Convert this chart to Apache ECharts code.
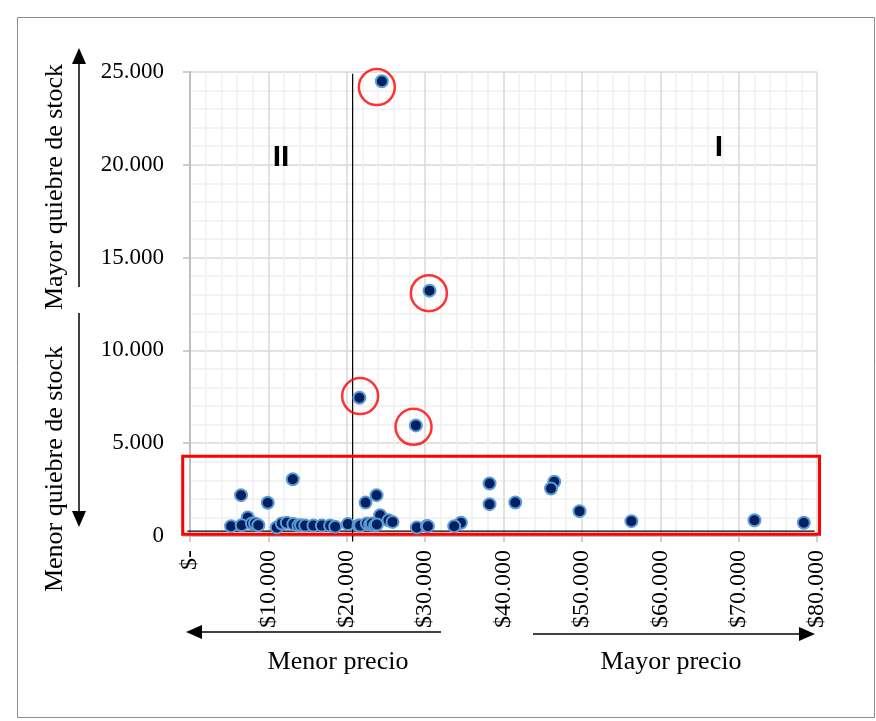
<!DOCTYPE html>
<html><head><meta charset="utf-8">
<script src="https://cdn.jsdelivr.net/npm/echarts@6/dist/echarts.min.js"></script>
<style>html,body{margin:0;padding:0;background:#fff}#c{width:876px;height:721px}</style>
</head><body><div id="c"></div>
<script>
// Products: price ($) vs stock break (units)
const priceValues = [24480, 30560, 21620, 28820,
  6510, 9920, 13110, 22400, 23800, 24260, 25330, 25840, 38220, 38220, 41500, 46480, 46060, 49700, 56320, 72020, 78320, 7370, 34570, 33710,
  5240, 6600, 7900, 8300, 8720, 11070, 11710, 12350, 13190, 13830, 14170, 14690, 15750, 16820, 17880, 18520, 20140, 21500, 21710, 22570, 22990, 23200, 23620, 23840, 28950, 30230, 30350];
const stockValues = [24500, 13220, 7450, 5960,
  2200, 1790, 3060, 1800, 2200, 1120, 850, 760, 2830, 1715, 1805, 2920, 2560, 1340, 800, 850, 710, 1000, 710, 530,
  530, 580, 680, 670, 580, 460, 670, 710, 640, 560, 580, 560, 560, 560, 560, 500, 640, 560, 560, 670, 620, 670, 560, 620, 460, 545, 530];
// highlighted (circled) products
const circlePrice = [23840, 30480, 21710, 28520];
const circleStock = [24190, 13080, 7540, 5885];
// reference lines
const refPrice = 20750;
const refStock = 260;
const refLineXRange = [-340, 79700];
const refLineYRange = [-300, 24900];
// low-stock-break box
const boxPrice = [-930, 80320];
const boxStock = [97, 4300];
// axes
const xTickLabels = ['$-', '$10.000', '$20.000', '$30.000', '$40.000', '$50.000', '$60.000', '$70.000', '$80.000'];
const yTickLabels = ['0', '5.000', '10.000', '15.000', '20.000', '25.000'];
const xInterval = 10000, yInterval = 5000;

const serif = 'Liberation Serif';
const chart = echarts.init(document.getElementById('c'), null, {renderer: 'canvas'});

const points = priceValues.map((p, i) => [p, stockValues[i]]);
const circles = circlePrice.map((p, i) => [p, circleStock[i]]);

function arrowV(x, yTop, yBot, up) {
  const tipY = up ? yTop : yBot;
  const baseY = up ? yTop + 16 : yBot - 16;
  return [
    {type: 'line', z: 100, shape: {x1: x, y1: up ? baseY : yTop, x2: x, y2: up ? yBot : baseY}, style: {stroke: '#000', lineWidth: 1.5}},
    {type: 'polygon', z: 100, shape: {points: [[x, tipY], [x - 7, baseY], [x + 7, baseY]]}, style: {fill: '#000'}}
  ];
}
function arrowH(y, xL, xR, left) {
  const tipX = left ? xL : xR;
  const baseX = left ? xL + 16 : xR - 16;
  return [
    {type: 'line', z: 100, shape: {x1: left ? baseX : xL, y1: y, x2: left ? xR : baseX, y2: y}, style: {stroke: '#000', lineWidth: 1.5}},
    {type: 'polygon', z: 100, shape: {points: [[tipX, y], [baseX, y - 7], [baseX, y + 7]]}, style: {fill: '#000'}}
  ];
}

const option = {
  animation: false,
  backgroundColor: '#fff',
  grid: {left: 190, right: 59, top: 72, bottom: 185, containLabel: false},
  xAxis: {
    type: 'value', min: 0, max: 80000, interval: xInterval,
    axisLine: {show: true, lineStyle: {color: '#BFBFBF', width: 2}},
    axisTick: {show: true, length: 6, lineStyle: {color: '#BFBFBF', width: 1.5}},
    axisLabel: {rotate: 90, margin: 14, fontFamily: serif, fontSize: 24, color: '#000',
      formatter: v => xTickLabels[Math.round(v / xInterval)]},
    splitLine: {show: true, lineStyle: {color: '#D9D9D9', width: 1.5}},
    minorTick: {show: false, splitNumber: 5},
    minorSplitLine: {show: true, lineStyle: {color: '#EFEFEF', width: 1.5}}
  },
  yAxis: {
    type: 'value', min: 0, max: 25000, interval: yInterval,
    axisLine: {show: true, lineStyle: {color: '#BFBFBF', width: 2}},
    axisTick: {show: true, length: 7, lineStyle: {color: '#BFBFBF', width: 1.5}},
    axisLabel: {margin: 26, fontFamily: serif, fontSize: 23, color: '#000',
      formatter: v => yTickLabels[Math.round(v / yInterval)]},
    splitLine: {show: true, lineStyle: {color: '#D9D9D9', width: 1.5}},
    minorTick: {show: false, splitNumber: 5},
    minorSplitLine: {show: true, lineStyle: {color: '#EFEFEF', width: 1.5}}
  },
  series: [
    {type: 'scatter', data: points, symbol: 'circle', symbolSize: 12, z: 5,
      itemStyle: {color: '#002060', borderColor: '#5B9BD5', borderWidth: 2, opacity: 1}},
    {type: 'scatter', data: circles, symbol: 'circle', symbolSize: 36, z: 6,
      itemStyle: {color: 'rgba(0,0,0,0)', borderColor: '#FF0000', borderWidth: 2.5}}
  ]
};
chart.setOption(option);

// overlay lines placed through the chart's own scales
const px = (x, y) => chart.convertToPixel({gridIndex: 0}, [x, y]);
const vTop = px(refPrice, refLineYRange[1]), vBot = px(refPrice, refLineYRange[0]);
const hL = px(refLineXRange[0], refStock), hR = px(refLineXRange[1], refStock);
const bTL = px(boxPrice[0], boxStock[1]), bBR = px(boxPrice[1], boxStock[0]);

chart.setOption({
  graphic: [
    {type: 'rect', shape: {x: 17.5, y: 17.5, width: 857, height: 700}, style: {fill: 'none', stroke: '#8C8C8C', lineWidth: 1}, silent: true, z: -1},
    {type: 'line', z: 3, shape: {x1: vTop[0], y1: vTop[1], x2: vBot[0], y2: vBot[1]}, style: {stroke: '#000', lineWidth: 1.2}},
    {type: 'line', z: 3, shape: {x1: hL[0], y1: hL[1], x2: hR[0], y2: hR[1]}, style: {stroke: '#000', lineWidth: 1.2}},
    {type: 'rect', z: 4, shape: {x: bTL[0], y: bTL[1], width: bBR[0] - bTL[0], height: bBR[1] - bTL[1]}, style: {fill: 'none', stroke: '#FF0000', lineWidth: 3}},
    {type: 'text', z: 100, x: 281, y: 158, style: {text: 'II', font: 'bold 30px "Liberation Sans"', fill: '#000', textAlign: 'center', textVerticalAlign: 'middle'}},
    {type: 'text', z: 100, x: 719, y: 148, style: {text: 'I', font: 'bold 30px "Liberation Sans"', fill: '#000', textAlign: 'center', textVerticalAlign: 'middle'}},
    {type: 'text', z: 100, x: 55, y: 187, rotation: Math.PI / 2, style: {text: 'Mayor quiebre de stock', font: '26px "Liberation Serif"', fill: '#000', textAlign: 'center', textVerticalAlign: 'middle'}},
    {type: 'text', z: 100, x: 55, y: 469, rotation: Math.PI / 2, style: {text: 'Menor quiebre de stock', font: '26px "Liberation Serif"', fill: '#000', textAlign: 'center', textVerticalAlign: 'middle'}},
    ...arrowV(79, 48, 287, true),
    ...arrowV(79, 313, 527, false),
    ...arrowH(632, 186, 441, true),
    ...arrowH(634, 533, 815, false),
    {type: 'text', z: 100, x: 338, y: 662, style: {text: 'Menor precio', font: '26px "Liberation Serif"', fill: '#000', textAlign: 'center', textVerticalAlign: 'middle'}},
    {type: 'text', z: 100, x: 671, y: 662, style: {text: 'Mayor precio', font: '26px "Liberation Serif"', fill: '#000', textAlign: 'center', textVerticalAlign: 'middle'}}
  ]
});
</script>
</body></html>
